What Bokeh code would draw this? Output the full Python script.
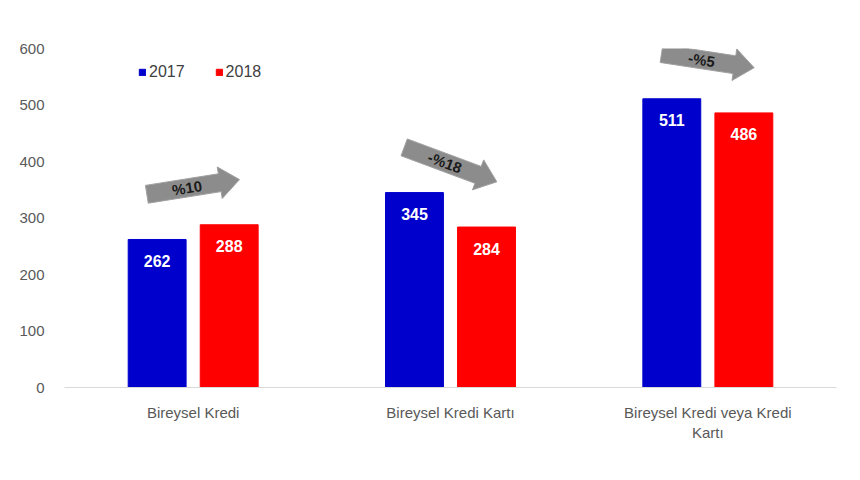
import math
from bokeh.plotting import figure
from bokeh.models import FixedTicker, Range1d, Legend, LegendItem
from bokeh.core.properties import value
from bokeh.embed import file_html
from bokeh.resources import INLINE

categories = ["Bireysel Kredi", "Bireysel Kredi Kartı", "Bireysel Kredi veya Kredi\nKartı"]
years = ["2017", "2018"]
v2017 = [262, 345, 511]
v2018 = [288, 284, 486]
changes = ["%10", "-%18", "-%5"]
y_ticks = [0, 100, 200, 300, 400, 500, 600]

BLUE = "#0000CC"
RED = "#FF0000"
FONT = "Liberation Sans"

W, H = 844, 464
ML, MR, MT, MB = 64, 8, 48, 77
fw = W - ML - MR
fh = H - MT - MB

p = figure(width=W, height=H, output_backend="svg", toolbar_location=None,
           x_range=Range1d(0, 3), y_range=Range1d(0, 600),
           min_border_left=ML, min_border_right=MR, min_border_top=MT, min_border_bottom=MB)
p.outline_line_color = None
p.grid.visible = False
p.background_fill_color = "white"

xc = [i + 0.5 for i in range(len(categories))]
off = 0.14
bw = 0.225
x17 = [x - off for x in xc]
x18 = [x + off for x in xc]

r17 = p.vbar(x=x17, top=v2017, width=bw, color=BLUE)
r18 = p.vbar(x=x18, top=v2018, width=bw, color=RED)

# value labels inside bars
lab_off = 38
p.text(x=x17 + x18, y=[v - lab_off for v in v2017 + v2018],
       text=[str(v) for v in v2017 + v2018], text_color="white",
       text_font=value(FONT), text_font_style="bold", text_font_size="16px",
       text_align="center", text_baseline="middle")

# arrows
pxx = fw / 3.0
pxy = fh / 600.0
arrow_x, arrow_y = [], []
tx, ty, tang = [], [], []
for i in range(3):
    sx = (xc[i] - 0.18) * pxx
    ex = (xc[i] + 0.18) * pxx
    sy = (v2017[i] + 80) * pxy
    ey = (v2018[i] + 80) * pxy
    dx, dy = ex - sx, ey - sy
    L = math.hypot(dx, dy)
    ux, uy = dx / L, dy / L
    nx, ny = -uy, ux
    hw, hh, hl = 9, 16, 20
    bx, by = ex - ux * hl, ey - uy * hl
    pts = [(sx + nx * hw, sy + ny * hw), (bx + nx * hw, by + ny * hw),
           (bx + nx * hh, by + ny * hh), (ex, ey),
           (bx - nx * hh, by - ny * hh), (bx - nx * hw, by - ny * hw),
           (sx - nx * hw, sy - ny * hw)]
    arrow_x.append([q[0] / pxx for q in pts])
    arrow_y.append([q[1] / pxy for q in pts])
    mx = sx + ux * (L - hl) * 0.55
    my = sy + uy * (L - hl) * 0.55
    tx.append(mx / pxx)
    ty.append(my / pxy)
    tang.append(math.atan2(dy, dx))

p.patches(xs=arrow_x, ys=arrow_y, fill_color="#8c8c8c", line_color="#a0a0a0", line_width=1)
p.text(x=tx, y=ty, text=changes, angle=tang, text_color="#1a1a1a",
       text_font=value(FONT), text_font_style="bold", text_font_size="15px",
       text_align="center", text_baseline="middle")

# axes
p.xaxis.ticker = FixedTicker(ticks=xc)
p.xaxis.major_label_overrides = {x: c for x, c in zip(xc, categories)}
p.xaxis.axis_line_color = "#d9d9d9"
p.xaxis.major_tick_line_color = None
p.xaxis.minor_tick_line_color = None
p.xaxis.major_label_standoff = 10
p.xaxis.major_label_text_font = FONT
p.xaxis.major_label_text_font_size = "15px"
p.xaxis.major_label_text_color = "#595959"

p.yaxis.ticker = FixedTicker(ticks=y_ticks)
p.yaxis.axis_line_color = None
p.yaxis.major_tick_line_color = None
p.yaxis.minor_tick_line_color = None
p.yaxis.major_label_standoff = 14
p.yaxis.major_label_text_font = FONT
p.yaxis.major_label_text_font_size = "15px"
p.yaxis.major_label_text_color = "#595959"

legend = Legend(items=[LegendItem(label=years[0], renderers=[r17]),
                       LegendItem(label=years[1], renderers=[r18])],
                orientation="horizontal", location=(74, 306),
                glyph_width=8, glyph_height=8, label_standoff=3, spacing=30,
                padding=0, margin=0, border_line_alpha=0, background_fill_alpha=0,
                label_text_font=FONT, label_text_font_size="16px", label_text_color="#404040")
p.add_layout(legend)

open("out.html", "w").write(file_html(p, INLINE))
